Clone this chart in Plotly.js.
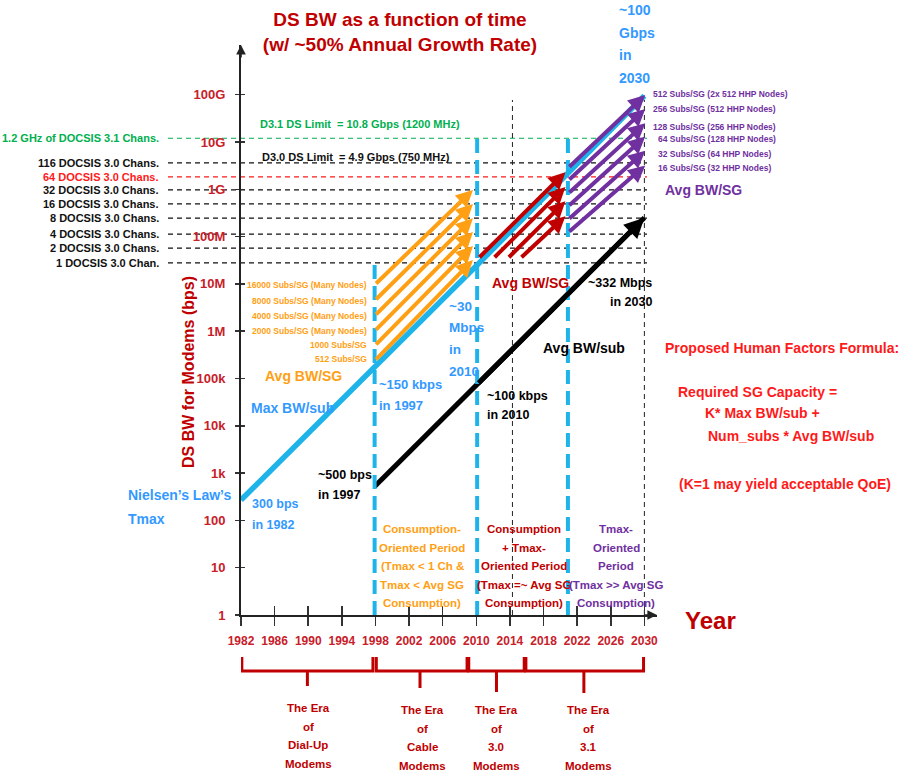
<!DOCTYPE html>
<html><head><meta charset="utf-8">
<script src="https://cdn.plot.ly/plotly-3.0.1.min.js"></script>
<style>body{margin:0;background:#fff}</style>
</head><body><div id="chart" style="width:914px;height:776px"></div>
<script>
// ---------------- data ----------------
const tickYears = [1982,1986,1990,1994,1998,2002,2006,2010,2014,2018,2022,2026,2030];
const tickYearLabels = ['1982','1986','1990','1994','1998','2002','2006','2010','2014','2018','2022','2026','2030'];
const bwTickVals = [1,10,100,1e3,1e4,1e5,1e6,1e7,1e8,1e9,1e10,1e11];
const bwTickText = ['1','10','100','1k','10k','100k','1M','10M','100M','1G','10G','100G'];

// Nielsen's law Tmax (Max BW/sub)
const tmaxYears = [1982, 1997.9, 2010.1, 2030];
const tmaxBps = [270, 1.66e5, 2.5e7, 9.5e10];
// Avg BW/sub
const avgSubYears = [1997.9, 2010.1, 2030];
const avgSubBps = [520, 7.5e4, 2.5e8];

// Avg BW/SG arrows, consumption-oriented period (orange)
const orangeLabels = ['16000 Subs/SG (Many Nodes)','8000 Subs/SG (Many Nodes)','4000 Subs/SG (Many Nodes)','2000 Subs/SG (Many Nodes)','1000 Subs/SG','512 Subs/SG'];
const orangeYears = [1997.9, 2009.6];
const orangeFrom = [9.5e6, 4.4e6, 2.1e6, 1.0e6, 4.9e5, 2.35e5];
const orangeTo = [9.7e8, 4.9e8, 2.45e8, 1.25e8, 6.3e7, 3.2e7];

// Avg BW/SG arrows, consumption + Tmax period (dark red)
const redFromYears = [2010.2, 2012.0, 2013.7, 2015.2];
const redToYear = 2020.6;
const redFrom = [3.4e7, 3.4e7, 3.4e7, 3.4e7];
const redTo = [2.3e9, 1.12e9, 5.6e8, 2.7e8];

// Avg BW/SG arrows, Tmax-oriented period (purple)
const purpleLabels = ['512 Subs/SG (2x 512 HHP Nodes)','256 Subs/SG (512 HHP Nodes)','128 Subs/SG (256 HHP Nodes)','64 Subs/SG (128 HHP Nodes)','32 Subs/SG (64 HHP Nodes)','16 Subs/SG (32 HHP Nodes)'];
const purpleYears = [2020.9, 2030.1];
const purpleFrom = [2.8e9, 1.5e9, 8.0e8, 4.3e8, 2.25e8, 1.2e8];
const purpleTo = [9.8e10, 5.0e10, 2.5e10, 1.3e10, 6.5e9, 3.2e9];

// channel capacity reference levels
const refLabels = ['1.2 GHz of DOCSIS 3.1 Chans.','116 DOCSIS 3.0 Chans.','64 DOCSIS 3.0 Chans.','32 DOCSIS 3.0 Chans.','16 DOCSIS 3.0 Chans.','8 DOCSIS 3.0 Chans.','4 DOCSIS 3.0 Chans.','2 DOCSIS 3.0 Chans.','1 DOCSIS 3.0 Chan.'];
const refBps = [1.2e10, 3.6e9, 1.82e9, 9.7e8, 4.9e8, 2.46e8, 1.13e8, 5.7e7, 2.77e7];
const refColors = ['#00B050','#111','#FF1A1A','#111','#111','#111','#111','#111','#111'];

// period boundaries
const periodYears = [1997.9, 2010.1, 2020.9];
const periodTopBps = [2.5e7, 1.3e10, 1.4e10];
const gridYears = [2014.3, 2030.0];
const gridTopBps = [7.7e10, 7.7e10];
const periodLines = [
  ['Consumption-','Oriented Period','(Tmax < 1 Ch &','Tmax < Avg SG','Consumption)'],
  ['Consumption','+ Tmax-','Oriented Period','(Tmax =~ Avg SG','Consumption)'],
  ['Tmax-','Oriented','Period','(Tmax >> Avg SG','Consumption)']];
const periodColors = ['#FFA014','#C00000','#7030A0'];

// eras
const eraLines = [['The Era','of','Dial-Up','Modems'],['The Era','of','Cable','Modems'],['The Era','of','3.0','Modems'],['The Era','of','3.1','Modems']];
const eraStart = [1982.1, 1998.1, 2009.1, 2015.9];
const eraEnd = [1997.7, 2008.9, 2015.7, 2029.9];
const eraMid = [1989.9, 2003.3, 2012.4, 2022.8];

// ---------------- styling / helpers ----------------
const FN = "'Liberation Sans Narrow','Arial Narrow','Liberation Sans',Arial,sans-serif";
const BLUE_LINE = '#1EB4EA', BLUE_TXT = '#3399FF', ORANGE = '#FFA014', DRED = '#C00000', PURPLE = '#7030A0', RED = '#FF1A1A', GREEN = '#00B050', TICKRED = '#C8202A';
function fnt(size, color) { return {family: FN, size: size, color: color, weight: 'bold'}; }
const L = 241, B = 615, W = 416, H = 570;
const X0 = 1982, X1 = 2031.5, YMAX = 12.05;
function px(x) { return (x - L) / W; }
function py(y) { return (B - y) / H; }
const ann = [];
function label(text, x, y, size, color, xanchor, extra) {
  xanchor = xanchor || 'left';
  const a = Object.assign({text: text, x: px(x), y: py(y), xref: 'paper', yref: 'paper', xanchor: xanchor, yanchor: 'middle',
    align: xanchor === 'right' ? 'right' : (xanchor === 'center' ? 'center' : 'left'), showarrow: false, font: fnt(size, color)}, extra || {});
  ann.push(a);
}
function block(lines, x, y0, dy, size, color, xanchor) {
  lines.forEach((t, i) => label(t, x, y0 + i * dy, size, color, xanchor));
}
function arrow(x0, v0, x1, v1, color, width, size) {
  ann.push({x: x1, y: Math.log10(v1), ax: x0, ay: Math.log10(v0), xref: 'x', yref: 'y', axref: 'x', ayref: 'y',
    text: '', showarrow: true, arrowhead: 2, arrowsize: size, arrowwidth: width, arrowcolor: color, standoff: 0});
}

// ---------------- traces ----------------
const traces = [
  {x: tmaxYears, y: tmaxBps, mode: 'lines', line: {color: BLUE_LINE, width: 5.5}, hoverinfo: 'skip'},
  {x: avgSubYears, y: avgSubBps, mode: 'lines', line: {color: '#000', width: 5}, hoverinfo: 'skip'},
  {x: [2000], y: [10], xaxis: 'x2', yaxis: 'y2', mode: 'markers', marker: {opacity: 0}, hoverinfo: 'skip'}
];

// ---------------- shapes ----------------
const shapes = [];
refBps.forEach((v, i) => shapes.push({type: 'line', xref: 'paper', yref: 'y', x0: px(168), x1: px(647), y0: v, y1: v,
  line: {color: refColors[i], width: 1.2, dash: '5px,4px'}, layer: 'below'}));
gridYears.forEach((yr, i) => shapes.push({type: 'line', xref: 'x', yref: 'y', x0: yr, x1: yr, y0: 1, y1: gridTopBps[i],
  line: {color: '#222', width: 1, dash: '5px,4px'}, layer: 'below'}));
periodYears.forEach((yr, i) => shapes.push({type: 'line', xref: 'x', yref: 'y', x0: yr, x1: yr, y0: 1, y1: periodTopBps[i],
  line: {color: BLUE_LINE, width: 4, dash: '14px,7px'}, layer: 'above'}));
const yTop = py(657), yMid = py(671);
const yTips = [py(686), py(688), py(692), py(693)];
eraStart.forEach((s, i) => shapes.push({type: 'path', xref: 'x', yref: 'paper',
  path: 'M' + s + ',' + yTop + ' L' + s + ',' + yMid + ' L' + eraEnd[i] + ',' + yMid + ' L' + eraEnd[i] + ',' + yTop +
        ' M' + eraMid[i] + ',' + yMid + ' L' + eraMid[i] + ',' + yTips[i],
  line: {color: DRED, width: 3}}));

// ---------------- annotations ----------------
// axis arrowheads
ann.push({x: 1, y: 0, xref: 'paper', yref: 'paper', ax: -14, ay: 0, text: '', showarrow: true, arrowhead: 2, arrowsize: 1.2, arrowwidth: 1.6, arrowcolor: '#222'});
ann.push({x: 0, y: 1, xref: 'paper', yref: 'paper', ax: 0, ay: 14, text: '', showarrow: true, arrowhead: 2, arrowsize: 1.2, arrowwidth: 1.6, arrowcolor: '#222'});
// SG arrows
orangeFrom.forEach((v, i) => arrow(orangeYears[0], v, orangeYears[1], orangeTo[i], ORANGE, 4, 0.85));
redFrom.forEach((v, i) => arrow(redFromYears[i], v, redToYear, redTo[i], DRED, 4, 0.85));
purpleFrom.forEach((v, i) => arrow(purpleYears[0], v, purpleYears[1], purpleTo[i], PURPLE, 4, 0.85));
// arrowhead at end of Avg BW/sub
arrow(avgSubYears[1], avgSubBps[1], avgSubYears[2], avgSubBps[2], '#000', 5, 0.8);

// reference level labels
refLabels.forEach((t, i) => ann.push({text: t, x: px(161), y: Math.log10(refBps[i]), xref: 'paper', yref: 'y',
  xanchor: 'right', yanchor: 'middle', showarrow: false, font: fnt(11, refColors[i])}));
label('D3.1 DS Limit  = 10.8 Gbps (1200 MHz)', 258, 124, 11, GREEN);
label('D3.0 DS Limit  = 4.9 Gbps (750 MHz)', 260, 157, 11, '#111');

// SG labels
const orangeLabelY = [285, 301, 316, 331, 345, 359];
orangeLabels.forEach((t, i) => label(t, 369, orangeLabelY[i], 8.5, ORANGE, 'right'));
const purpleLabelY = [94, 109, 127, 139, 154, 168];
const purpleLabelX = [651, 651, 651, 656, 656, 656];
purpleLabels.forEach((t, i) => label(t, purpleLabelX[i], purpleLabelY[i], 8.5, PURPLE));

// series labels
block(['~100', 'Gbps', 'in', '2030'], 617, 10, 22.7, 14, BLUE_TXT);
label('Avg BW/SG', 663, 190, 14, PURPLE);
label('Avg BW/SG', 490, 283, 14, DRED);
block(['~332 Mbps', 'in 2030'], 654, 283, 19, 12.5, '#000', 'right');
block(['~30', 'Mbps', 'in', '2010'], 447, 306, 21.7, 13.5, BLUE_TXT);
label('Avg BW/sub', 541, 348, 14, '#000');
label('Avg BW/SG', 263, 376, 14, ORANGE);
block(['~150 kbps', 'in 1997'], 377, 384, 21, 13, BLUE_TXT);
block(['~100 kbps', 'in 2010'], 485, 396, 19, 12.5, '#000');
label('Max BW/sub', 249, 408, 14, BLUE_TXT);
block(['~500 bps', 'in 1997'], 316, 475, 20, 12.5, '#000');
block(['300 bps', 'in 1982'], 250, 504, 21, 12.5, BLUE_TXT);
block(['Nielsen\u2019s Law\u2019s', 'Tmax'], 126, 495, 24, 14, BLUE_TXT);

// period labels
const periodCenterX = [422, 524, 616];
periodLines.forEach((ls, i) => block(ls, periodCenterX[i], 529, 18.5, 11.5, periodColors[i], 'center'));
// era labels
const eraCenterX = [308, 422, 496, 588];
const eraFirstY = [708, 710, 710, 710];
eraLines.forEach((ls, i) => block(ls, eraCenterX[i], eraFirstY[i], 18.7, 11.5, DRED, 'center'));

// axis words
label('Year', 710, 620, 24, DRED, 'center');
label('DS BW for Modems (bps)', 188, 372, 16, DRED, 'center', {textangle: -90});

// formula text
label('Proposed Human Factors Formula:', 663, 348, 14, RED);
label('Required SG Capacity =', 676, 392, 14, RED);
label('K* Max BW/sub +', 703, 413, 14, RED);
label('Num_subs * Avg BW/sub', 706, 436, 14, RED);
label('(K=1 may yield acceptable QoE)', 677, 484, 14, RED);

// ---------------- layout ----------------
const layout = {
  width: 914, height: 776,
  margin: {l: L, r: 914 - L - W, t: B - H, b: 776 - B, pad: 0},
  paper_bgcolor: '#fff', plot_bgcolor: 'rgba(0,0,0,0)',
  showlegend: false, hovermode: false,
  font: {family: FN},
  title: {text: 'DS BW as a function of time<br>(w/ ~50% Annual Growth Rate)', font: fnt(19, DRED),
    x: 400 / 914, xanchor: 'center', xref: 'container', y: 1 - 26 / 776, yanchor: 'top', yref: 'container'},
  xaxis: {range: [X0, X1], tickvals: tickYears, ticktext: tickYearLabels, showgrid: false, zeroline: false,
    showline: true, linecolor: '#222', linewidth: 2, ticks: 'outside', ticklen: 9, tickwidth: 1.5, tickcolor: '#333',
    tickfont: fnt(12, TICKRED), ticklabelstandoff: 5, fixedrange: true},
  xaxis2: {overlaying: 'x', anchor: 'y', side: 'bottom', range: [X0, X1], tickvals: tickYears, ticks: 'inside', ticklen: 9,
    tickwidth: 1.5, tickcolor: '#333', showticklabels: false, showgrid: false, zeroline: false, showline: false},
  yaxis: {type: 'log', range: [0, YMAX], tickvals: bwTickVals, ticktext: bwTickText, showgrid: false, zeroline: false,
    showline: true, linecolor: '#222', linewidth: 2, ticks: 'outside', ticklen: 4, tickwidth: 1.5, tickcolor: '#333',
    tickfont: fnt(13, TICKRED), ticklabelstandoff: 7, fixedrange: true},
  yaxis2: {overlaying: 'y', anchor: 'x', type: 'log', range: [0, YMAX], tickvals: bwTickVals, ticks: 'inside', ticklen: 4,
    tickwidth: 1.5, tickcolor: '#333', showticklabels: false, showgrid: false, zeroline: false, showline: false},
  shapes: shapes,
  annotations: ann
};

Plotly.newPlot('chart', traces, layout, {displayModeBar: false, staticPlot: true});
</script>
</body></html>
